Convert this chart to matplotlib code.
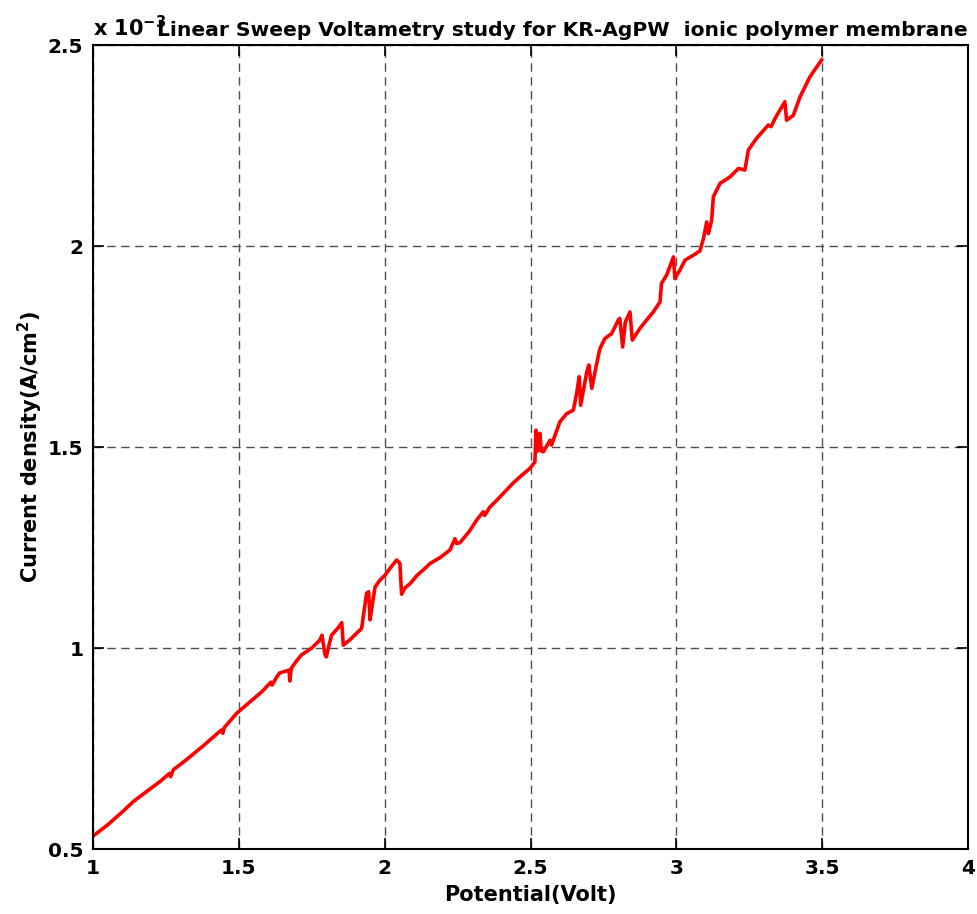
import matplotlib
matplotlib.use("Agg")
import matplotlib.pyplot as plt

# Linear sweep voltammetry: potential (V) vs current density (x 1e-3 A/cm^2)
potential = [
    1.000, 1.050, 1.100, 1.138, 1.180, 1.230, 1.262, 1.266, 1.275, 1.320,
    1.380, 1.440, 1.445, 1.450, 1.493, 1.538, 1.580, 1.610, 1.614, 1.630,
    1.640, 1.672, 1.675, 1.680, 1.700, 1.715, 1.750, 1.778, 1.785, 1.795,
    1.800, 1.810, 1.818, 1.840, 1.853, 1.858, 1.880, 1.921, 1.938, 1.945,
    1.950, 1.958, 1.967, 1.984, 2.001, 2.020, 2.041, 2.052, 2.058, 2.070,
    2.087, 2.110, 2.144, 2.155, 2.190, 2.224, 2.241, 2.247, 2.258, 2.290,
    2.315, 2.338, 2.343, 2.360, 2.385, 2.407, 2.440, 2.464, 2.498, 2.515,
    2.519, 2.523, 2.527, 2.532, 2.537, 2.544, 2.567, 2.572, 2.601, 2.624,
    2.647, 2.658, 2.667, 2.672, 2.693, 2.700, 2.710, 2.727, 2.738, 2.755,
    2.778, 2.801, 2.806, 2.816, 2.825, 2.841, 2.849, 2.875, 2.898, 2.921,
    2.944, 2.949, 2.967, 2.990, 2.995, 3.012, 3.030, 3.060, 3.081, 3.093,
    3.104, 3.110, 3.121, 3.127, 3.150, 3.184, 3.213, 3.235, 3.247, 3.275,
    3.315, 3.325, 3.338, 3.372, 3.378, 3.401, 3.424, 3.458, 3.498,
]
current_e3 = [
    0.532, 0.560, 0.592, 0.618, 0.641, 0.668, 0.688, 0.680, 0.697, 0.722,
    0.758, 0.796, 0.788, 0.802, 0.838, 0.866, 0.892, 0.915, 0.908, 0.928,
    0.938, 0.945, 0.918, 0.950, 0.970, 0.983, 1.000, 1.020, 1.032, 0.985,
    0.978, 1.010, 1.032, 1.050, 1.063, 1.007, 1.020, 1.049, 1.136, 1.140,
    1.070, 1.110, 1.152, 1.169, 1.181, 1.200, 1.219, 1.211, 1.134, 1.150,
    1.160, 1.180, 1.202, 1.210, 1.225, 1.244, 1.272, 1.260, 1.262, 1.290,
    1.318, 1.339, 1.330, 1.350, 1.368, 1.385, 1.410, 1.426, 1.447, 1.463,
    1.542, 1.490, 1.493, 1.534, 1.490, 1.488, 1.517, 1.505, 1.563, 1.583,
    1.592, 1.633, 1.675, 1.604, 1.687, 1.704, 1.646, 1.708, 1.745, 1.770,
    1.782, 1.816, 1.820, 1.749, 1.811, 1.836, 1.766, 1.795, 1.816, 1.836,
    1.861, 1.907, 1.928, 1.973, 1.919, 1.940, 1.965, 1.978, 1.988, 2.019,
    2.060, 2.031, 2.064, 2.123, 2.156, 2.172, 2.193, 2.189, 2.239, 2.268,
    2.301, 2.297, 2.317, 2.359, 2.313, 2.325, 2.371, 2.421, 2.463,
]

x_ticks = [1, 1.5, 2, 2.5, 3, 3.5, 4]
x_tick_labels = ["1", "1.5", "2", "2.5", "3", "3.5", "4"]
y_ticks = [0.5, 1, 1.5, 2, 2.5]
y_tick_labels = ["0.5", "1", "1.5", "2", "2.5"]

plt.rcParams["font.family"] = ["DejaVu Sans"]
plt.rcParams["font.weight"] = "bold"
plt.rcParams["mathtext.default"] = "bf"

fig = plt.figure(figsize=(9.77, 9.14), dpi=100)
ax = fig.add_axes([0.0952, 0.0711, 0.8956, 0.8796])

ax.plot(potential, current_e3, color="#ff0000", linewidth=2.6)

ax.set_xlim(1, 4)
ax.set_ylim(0.5, 2.5)
ax.set_xticks(x_ticks)
ax.set_xticklabels(x_tick_labels)
ax.set_yticks(y_ticks)
ax.set_yticklabels(y_tick_labels)

ax.tick_params(direction="in", length=8, width=1.2, top=True, right=True,
               labelsize=14.5, pad=7)
for lab in ax.get_xticklabels() + ax.get_yticklabels():
    lab.set_fontweight("bold")
for sp in ax.spines.values():
    sp.set_linewidth(1.5)

ax.grid(True, color="0.3", linestyle=(0, (6, 4)), linewidth=1.0)

ax.set_xlabel("Potential(Volt)", fontsize=15, fontweight="bold", labelpad=5)
ax.set_ylabel(r"Current density(A/cm$^{2}$)", fontsize=15,
              fontweight="bold", labelpad=2)

ax.text(0.0, 1.006, r"x 10$^{-3}$", transform=ax.transAxes,
        fontsize=15, fontweight="bold", ha="left", va="bottom")
ax.text(1.0, 1.006, "Linear Sweep Voltametry study for KR-AgPW  ionic polymer membrane",
        transform=ax.transAxes, fontsize=14.6, fontweight="bold",
        ha="right", va="bottom")

fig.savefig("out.png", dpi=100)
